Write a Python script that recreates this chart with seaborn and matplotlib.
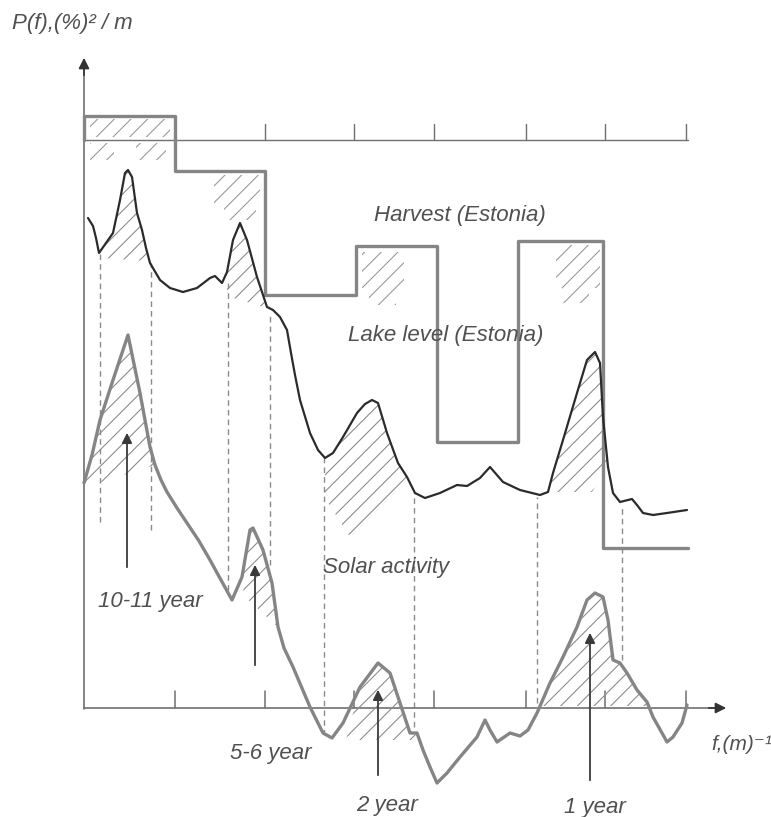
import numpy as np
import pandas as pd
import matplotlib
matplotlib.use("Agg")
import matplotlib.pyplot as plt
import seaborn as sns

# ---- data (f in plot units from origin, P in plot units above the f-axis) ----
harvest_edges = [0, 91, 181, 272, 353, 434, 519, 604]
harvest_levels = [592, 537, 413, 462, 266, 467, 160]

lake_f = [4, 9, 12, 15, 22, 29, 36, 41, 44, 48, 53, 58, 62, 66, 76, 86, 99, 113, 126, 131, 138,
          143, 149, 156, 163, 173, 183, 189, 196, 203, 207, 211, 216, 226, 234, 241, 249, 259,
          273, 281, 288, 294, 303, 314, 323, 331, 341, 356, 373, 383, 396, 406, 419, 436, 456,
          464, 469, 479, 493, 503, 511, 516, 519, 524, 529, 536, 548, 553, 559, 569, 583, 603]
lake_p = [490, 482, 470, 455, 465, 475, 508, 535, 538, 531, 495, 478, 460, 445, 428, 420, 416,
          420, 430, 432, 425, 436, 468, 485, 468, 431, 401, 398, 391, 378, 355, 333, 308, 275,
          258, 250, 255, 271, 295, 304, 308, 305, 275, 245, 231, 215, 210, 215, 223, 222, 230,
          241, 226, 218, 213, 216, 235, 268, 315, 348, 356, 345, 291, 241, 215, 206, 209, 203,
          195, 193, 195, 198]

solar_f = [0, 8, 16, 29, 44, 56, 66, 71, 77, 83, 93, 103, 115, 126, 137, 148, 158, 166, 169,
           179, 188, 194, 200, 209, 226, 239, 248, 259, 276, 294, 306, 316, 326, 333, 339, 346,
           353, 363, 376, 393, 401, 406, 413, 426, 436, 444, 453, 466, 479, 493, 503, 511, 519,
           524, 529, 536, 543, 553, 563, 569, 578, 583, 589, 598, 603]
solar_p = [225, 253, 288, 328, 373, 315, 261, 243, 228, 216, 200, 185, 167, 148, 128, 108, 131,
           178, 180, 158, 125, 81, 60, 41, 1, -25, -30, -15, 21, 45, 35, 5, -25, -25, -42, -59,
           -75, -65, -49, -29, -12, -22, -34, -25, -28, -22, -5, 25, 51, 81, 108, 115, 111, 88,
           48, 45, 35, 18, 6, -9, -25, -34, -29, -15, 3]

tick_f = [91, 181, 270, 350, 442, 521, 602]
top_line_p = 568

dashed_f = [16, 67, 144, 186, 240, 330, 453, 538]
dashed_top = [455, 445, 425, 395, 250, 215, 211, 203]
dashed_bottom = [186, 178, 118, 143, -27, -19, 5, 48]

period_labels = ["10-11 year", "5-6 year", "2 year", "1 year"]
arrow_f = [43, 171, 294, 506]
arrow_start = [138, 40, -70, -75]
arrow_tip = [278, 146, 21, 78]

# ---------------------------------------------------------------------------
sns.set_style("white")
plt.rcParams["font.family"] = ["Liberation Sans", "DejaVu Sans"]
plt.rcParams["hatch.linewidth"] = 0.8

fig = plt.figure(figsize=(7.71, 8.17), dpi=100)
ax = fig.add_axes([0, 0, 1, 1])
ax.set_xlim(-84, 687)
ax.set_ylim(-109, 708)
ax.axis("off")

gray = "#858585"
dark = "#2b2b2b"
axcol = "#707070"
hatchcol = "#8c8c8c"
txtcol = "#505050"

# axes lines
ax.plot([0, 0], [-1, 640], color=axcol, lw=1.2, zorder=2)
ax.plot([0, 632], [0, 0], color=axcol, lw=1.2, zorder=2)
ax.annotate("", xy=(0, 653), xytext=(0, 630),
            arrowprops=dict(arrowstyle="-|>", color="#333333", lw=1.2, mutation_scale=16))
ax.annotate("", xy=(645, 0), xytext=(622, 0),
            arrowprops=dict(arrowstyle="-|>", color="#333333", lw=1.2, mutation_scale=16))
for t in tick_f:
    ax.plot([t, t], [0, 17], color=axcol, lw=1.1, zorder=2)
# top reference line for harvest
ax.plot([0, 604], [top_line_p, top_line_p], color=axcol, lw=1.0, zorder=2)
for t in tick_f:
    ax.plot([t, t], [top_line_p, top_line_p + 16], color=axcol, lw=1.0, zorder=2)

# dashed guides
for f, a, b in zip(dashed_f, dashed_top, dashed_bottom):
    ax.plot([f, f], [b, a], color="#8a8a8a", lw=1.0, ls=(0, (4, 3)), zorder=1)

# harvest step line
hx = harvest_edges
hy = harvest_levels + [harvest_levels[-1]]
sns.lineplot(x=hx, y=hy, drawstyle="steps-post", color=gray, lw=2.4, ax=ax,
             estimator=None, sort=False, zorder=4)
ax.plot([0, 0], [top_line_p, harvest_levels[0]], color=gray, lw=2.4, zorder=4)

# hatched patches
def hatch_poly(xs, ys, h="//", col=hatchcol):
    ax.fill(xs, ys, facecolor="none", edgecolor=col, hatch=h, lw=0, zorder=3)

def hatch_rect(x0, x1, y0, y1, h="//"):
    hatch_poly([x0, x1, x1, x0], [y0, y0, y1, y1], h, "#9a9a9a")

hatch_rect(6, 86, 571, 589)
hatch_rect(6, 30, 548, 565)
hatch_rect(52, 82, 548, 565)
hatch_rect(130, 176, 505, 533)
hatch_rect(140, 172, 488, 505)
hatch_rect(278, 320, 420, 456)
hatch_rect(285, 312, 403, 420)
hatch_rect(472, 516, 420, 463)
hatch_rect(478, 505, 405, 420)

# lake level curve
lake = pd.DataFrame({"f": lake_f, "P": lake_p})
sns.lineplot(data=lake, x="f", y="P", color=dark, lw=1.6, ax=ax, estimator=None, sort=False,
             zorder=5)

def seg(fs, ps, lo, hi):
    xs = [f for f in fs if lo <= f <= hi]
    ys = [p for f, p in zip(fs, ps) if lo <= f <= hi]
    return xs, ys

xs, ys = seg(lake_f, lake_p, 15, 66)
hatch_poly(xs + [60, 20], ys + [447, 450])
xs, ys = seg(lake_f, lake_p, 143, 189)
hatch_poly(xs + [150, 143], ys + [410, 418])
xs, ys = seg(lake_f, lake_p, 241, 323)
hatch_poly(xs + [268, 241], ys + [168, 210])
xs, ys = seg(lake_f, lake_p, 464, 524)
hatch_poly(xs + [508, 464], ys + [216, 216])

# solar activity curve
solar = pd.DataFrame({"f": solar_f, "P": solar_p})
sns.lineplot(data=solar, x="f", y="P", color=gray, lw=2.4, ax=ax, estimator=None, sort=False,
             zorder=4)
xs, ys = seg(solar_f, solar_p, 0, 71)
hatch_poly(xs + [8], ys + [223])
xs, ys = seg(solar_f, solar_p, 158, 194)
hatch_poly(xs + [160], ys + [112])
xs, ys = seg(solar_f, solar_p, 262, 333)
hatch_poly(xs + [333, 262], ys + [-32, -32])
xs, ys = seg(solar_f, solar_p, 453, 569)
hatch_poly(xs + [569, 453], ys + [2, 2])

# arrows for periods
for f, a, b in zip(arrow_f, arrow_start, arrow_tip):
    ax.annotate("", xy=(f, b), xytext=(f, a),
                arrowprops=dict(arrowstyle="-|>", color="#3a3a3a", lw=1.3, mutation_scale=15),
                zorder=6)

fs = 16
kw = dict(color=txtcol, fontsize=fs, fontstyle="italic", zorder=7)
ax.text(-72, 685, "P(f),(%)² / m", ha="left", va="center", **kw)
ax.text(376, 493, "Harvest (Estonia)", ha="center", va="center", **kw)
ax.text(362, 373, "Lake level (Estonia)", ha="center", va="center", **kw)
ax.text(239, 140, "Solar activity", ha="left", va="center", **kw)
ax.text(66, 106, period_labels[0], ha="center", va="center", **kw)
ax.text(187, -46, period_labels[1], ha="center", va="center", **kw)
ax.text(303, -97, period_labels[2], ha="center", va="center", **kw)
ax.text(511, -99, period_labels[3], ha="center", va="center", **kw)
ax.text(627, -37, "f,(m)⁻¹", ha="left", va="center", color=txtcol, fontsize=15,
        fontstyle="italic", zorder=7)

fig.savefig("out.png", dpi=100)
